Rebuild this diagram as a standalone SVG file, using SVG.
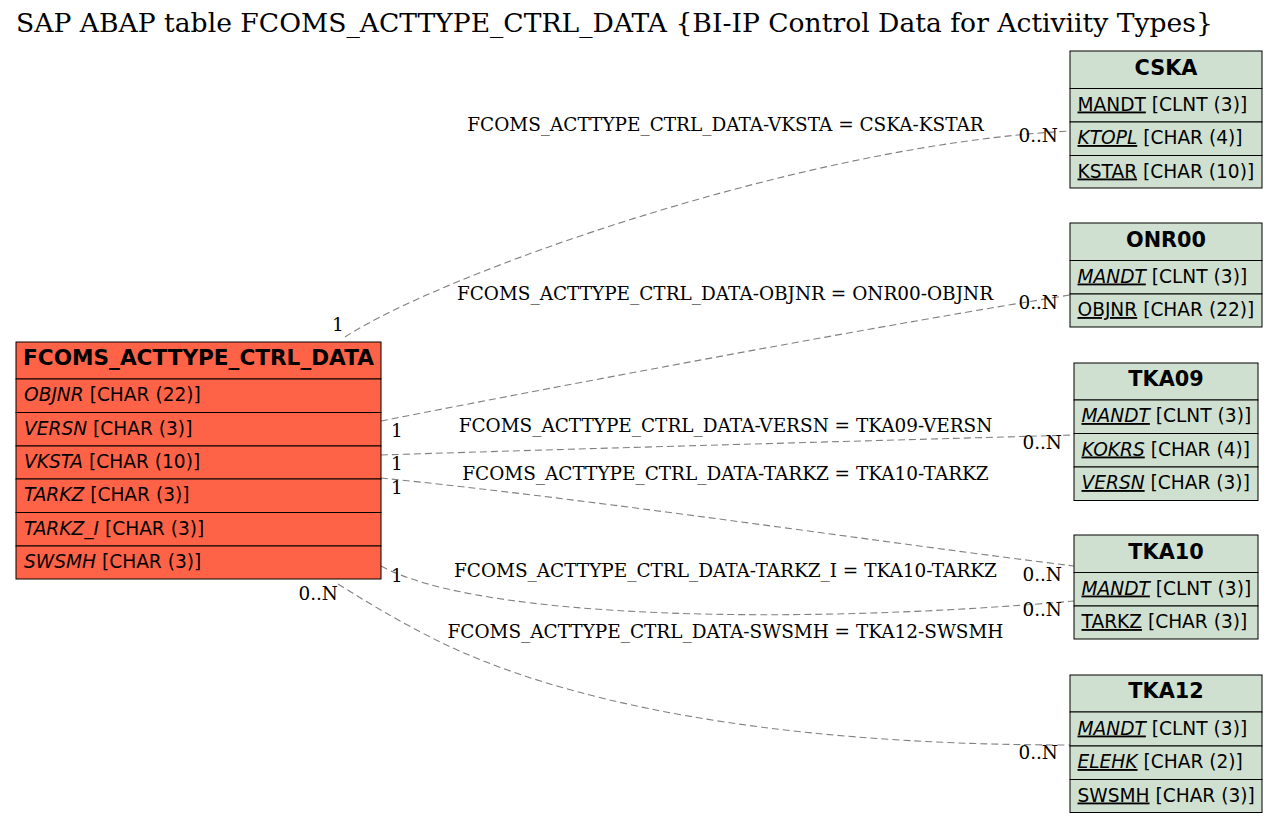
<svg xmlns="http://www.w3.org/2000/svg" width="1279" height="823" viewBox="0 0 1279 823">
<style>
.bg{fill:#ffffff}
.title{font-family:"DejaVu Serif",serif;font-size:26.6px;fill:#000}
.hdr{font-family:"DejaVu Sans",sans-serif;font-size:20.8px;font-weight:bold;fill:#000;text-anchor:middle}
.hdrm{font-size:21.6px}
.fld{font-family:"DejaVu Sans",sans-serif;font-size:18.6px;fill:#000}
.it{font-style:italic}
.u{text-decoration:underline}
.main rect{fill:#ff6347;stroke:#000;stroke-width:1}
.ref rect{fill:#d0e0d0;stroke:#000;stroke-width:1}
.edge{fill:none;stroke:#808080;stroke-width:1.1;stroke-dasharray:7,4}
.lbl{font-family:"DejaVu Serif",serif;font-size:18.45px;fill:#000}
.mid{text-anchor:middle}
.end{text-anchor:end}
</style>
<rect class="bg" x="0" y="0" width="1279" height="823"/>
<text class="title" x="16" y="32">SAP ABAP table FCOMS_ACTTYPE_CTRL_DATA {BI-IP Control Data for Activiity Types}</text>

<g id="connectors">
<path class="edge" d="M345,337 C440,275 800,145 1070,131"/>
<path class="edge" d="M381,421 C600,378 900,322 1070,295"/>
<path class="edge" d="M381,455 C600,448 900,440 1074,435"/>
<path class="edge" d="M381,478 C600,500 900,545 1074,566"/>
<path class="edge" d="M381,566 C480,620 800,625 1074,601"/>
<path class="edge" d="M338,584 C370,604 400,622 440,642 C560,700 760,745 1070,745"/>
<text class="lbl mid" x="725.5" y="131">FCOMS_ACTTYPE_CTRL_DATA-VKSTA = CSKA-KSTAR</text>
<text class="lbl mid" x="725" y="300">FCOMS_ACTTYPE_CTRL_DATA-OBJNR = ONR00-OBJNR</text>
<text class="lbl mid" x="725.5" y="432">FCOMS_ACTTYPE_CTRL_DATA-VERSN = TKA09-VERSN</text>
<text class="lbl mid" x="725.5" y="480">FCOMS_ACTTYPE_CTRL_DATA-TARKZ = TKA10-TARKZ</text>
<text class="lbl mid" x="725.5" y="577">FCOMS_ACTTYPE_CTRL_DATA-TARKZ_I = TKA10-TARKZ</text>
<text class="lbl mid" x="725.5" y="638">FCOMS_ACTTYPE_CTRL_DATA-SWSMH = TKA12-SWSMH</text>
<text class="lbl" x="332" y="331">1</text>
<text class="lbl" x="391" y="437">1</text>
<text class="lbl" x="391" y="470">1</text>
<text class="lbl" x="391" y="494">1</text>
<text class="lbl" x="391" y="582">1</text>
<text class="lbl end" x="338" y="600">0..N</text>
<text class="lbl end" x="1058" y="142">0..N</text>
<text class="lbl end" x="1058" y="309">0..N</text>
<text class="lbl end" x="1062" y="449">0..N</text>
<text class="lbl end" x="1062" y="581">0..N</text>
<text class="lbl end" x="1062" y="616">0..N</text>
<text class="lbl end" x="1058" y="759">0..N</text>
</g>

<g id="FCOMS_ACTTYPE_CTRL_DATA" class="main">
<rect x="16" y="342" width="365" height="37"/>
<rect x="16" y="379" width="365" height="33.5"/>
<rect x="16" y="412.5" width="365" height="33.5"/>
<rect x="16" y="446" width="365" height="33"/>
<rect x="16" y="479" width="365" height="33.5"/>
<rect x="16" y="512.5" width="365" height="33.5"/>
<rect x="16" y="546" width="365" height="33"/>
<text class="hdr hdrm" x="198.5" y="364.5">FCOMS_ACTTYPE_CTRL_DATA</text>
<text class="fld" x="24" y="401"><tspan class="it">OBJNR</tspan> [CHAR (22)]</text>
<text class="fld" x="24" y="434.5"><tspan class="it">VERSN</tspan> [CHAR (3)]</text>
<text class="fld" x="24" y="468"><tspan class="it">VKSTA</tspan> [CHAR (10)]</text>
<text class="fld" x="24" y="501"><tspan class="it">TARKZ</tspan> [CHAR (3)]</text>
<text class="fld" x="24" y="534.5"><tspan class="it">TARKZ_I</tspan> [CHAR (3)]</text>
<text class="fld" x="24" y="568"><tspan class="it">SWSMH</tspan> [CHAR (3)]</text>
</g>

<g id="CSKA" class="ref">
<rect x="1070" y="51" width="192" height="37.5"/>
<rect x="1070" y="88.5" width="192" height="33.5"/>
<rect x="1070" y="122" width="192" height="33.5"/>
<rect x="1070" y="155.5" width="192" height="32.5"/>
<text class="hdr" x="1166" y="74.5">CSKA</text>
<text class="fld" x="1077.5" y="110.5"><tspan class="u">MANDT</tspan> [CLNT (3)]</text>
<text class="fld" x="1077.5" y="144"><tspan class="it u">KTOPL</tspan> [CHAR (4)]</text>
<text class="fld" x="1077.5" y="177.5"><tspan class="u">KSTAR</tspan> [CHAR (10)]</text>
</g>

<g id="ONR00" class="ref">
<rect x="1070" y="223" width="192" height="37.5"/>
<rect x="1070" y="260.5" width="192" height="33.5"/>
<rect x="1070" y="294" width="192" height="33"/>
<text class="hdr" x="1166" y="246.5">ONR00</text>
<text class="fld" x="1077.5" y="282.5"><tspan class="it u">MANDT</tspan> [CLNT (3)]</text>
<text class="fld" x="1077.5" y="316"><tspan class="u">OBJNR</tspan> [CHAR (22)]</text>
</g>

<g id="TKA09" class="ref">
<rect x="1074" y="363" width="184" height="37"/>
<rect x="1074" y="400" width="184" height="33.5"/>
<rect x="1074" y="433.5" width="184" height="33.5"/>
<rect x="1074" y="467" width="184" height="33.5"/>
<text class="hdr" x="1166" y="386">TKA09</text>
<text class="fld" x="1081.5" y="422"><tspan class="it u">MANDT</tspan> [CLNT (3)]</text>
<text class="fld" x="1081.5" y="455.5"><tspan class="it u">KOKRS</tspan> [CHAR (4)]</text>
<text class="fld" x="1081.5" y="489"><tspan class="it u">VERSN</tspan> [CHAR (3)]</text>
</g>

<g id="TKA10" class="ref">
<rect x="1074" y="535" width="184" height="37.5"/>
<rect x="1074" y="572.5" width="184" height="33.5"/>
<rect x="1074" y="606" width="184" height="33"/>
<text class="hdr" x="1166" y="558.5">TKA10</text>
<text class="fld" x="1081.5" y="594.5"><tspan class="it u">MANDT</tspan> [CLNT (3)]</text>
<text class="fld" x="1081.5" y="628"><tspan class="u">TARKZ</tspan> [CHAR (3)]</text>
</g>

<g id="TKA12" class="ref">
<rect x="1070" y="675" width="192" height="37"/>
<rect x="1070" y="712" width="192" height="34"/>
<rect x="1070" y="746" width="192" height="33.5"/>
<rect x="1070" y="779.5" width="192" height="33"/>
<text class="hdr" x="1166" y="698">TKA12</text>
<text class="fld" x="1077.5" y="734.5"><tspan class="it u">MANDT</tspan> [CLNT (3)]</text>
<text class="fld" x="1077.5" y="768"><tspan class="it u">ELEHK</tspan> [CHAR (2)]</text>
<text class="fld" x="1077.5" y="801.5"><tspan class="u">SWSMH</tspan> [CHAR (3)]</text>
</g>
</svg>
